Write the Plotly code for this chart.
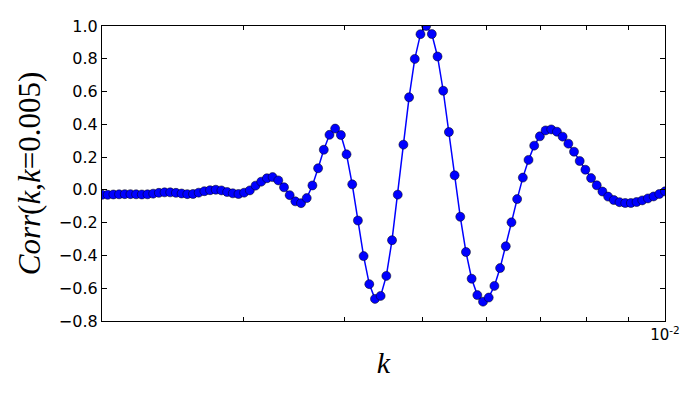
import plotly.graph_objects as go

# k values (log spaced), in units of 1e-3
k_milli = [
    2.0000, 2.0328, 2.0661, 2.1000, 2.1344, 2.1694, 2.2049, 2.2411, 2.2778, 2.3151,
    2.3531, 2.3916, 2.4308, 2.4707, 2.5112, 2.5523, 2.5942, 2.6367, 2.6799, 2.7238,
    2.7684, 2.8138, 2.8602, 2.9068, 2.9545, 3.0029, 3.0521, 3.1021, 3.1530, 3.2047,
    3.2572, 3.3105, 3.3651, 3.4200, 3.4760, 3.5330, 3.5909, 3.6497, 3.7095, 3.7704,
    3.8321, 3.8950, 3.9591, 4.0237, 4.0896, 4.1566, 4.2248, 4.2940, 4.3644, 4.4359,
    4.5086, 4.5825, 4.6580, 4.7340, 4.8116, 4.8904, 4.9706, 5.0520, 5.1348, 5.2190,
    5.3045, 5.3915, 5.4803, 5.5697, 5.6610, 5.7537, 5.8480, 5.9439, 6.0413, 6.1403,
    6.2410, 6.3432, 6.4477, 6.5529, 6.6603, 6.7694, 6.8804, 6.9932, 7.1078, 7.2243,
    7.3427, 7.4630, 7.5859, 7.7097, 7.8360, 7.9644, 8.0950, 8.2277, 8.3625, 8.4996,
    8.6389, 8.7805, 8.9251, 9.0706, 9.2193, 9.3704, 9.5240, 9.6801, 9.8387, 10.0000,
]
k = [v * 1e-3 for v in k_milli]

corr = [
    -0.030, -0.030, -0.028, -0.027, -0.026, -0.026, -0.027, -0.028, -0.027, -0.023,
    -0.018, -0.015, -0.015, -0.018, -0.022, -0.026, -0.025, -0.017, -0.008, -0.002,
    0.001, -0.003, -0.013, -0.021, -0.025, -0.017, -0.003, 0.026, 0.050, 0.071,
    0.078, 0.058, 0.016, -0.032, -0.070, -0.081, -0.050, 0.027, 0.132, 0.245,
    0.336, 0.374, 0.335, 0.217, 0.034, -0.187, -0.404, -0.575, -0.665, -0.647,
    -0.525, -0.307, -0.029, 0.276, 0.565, 0.799, 0.950, 1.000, 0.951, 0.814,
    0.605, 0.353, 0.089, -0.164, -0.379, -0.542, -0.642, -0.682, -0.657, -0.586,
    -0.477, -0.344, -0.198, -0.056, 0.075, 0.183, 0.270, 0.327, 0.363, 0.369,
    0.355, 0.325, 0.282, 0.233, 0.176, 0.123, 0.072, 0.028, -0.010, -0.041,
    -0.062, -0.075, -0.080, -0.080, -0.074, -0.064, -0.052, -0.040, -0.025, -0.009,
]

x_ticks = [0.003, 0.004, 0.005, 0.006, 0.007, 0.008, 0.009, 0.01]
x_ticktext = [" ", " ", " ", " ", " ", " ", " ", "10<sup>-2</sup>"]
y_ticks = [-0.8, -0.6, -0.4, -0.2, 0.0, 0.2, 0.4, 0.6, 0.8, 1.0]
y_ticktext = ["\u22120.8", "\u22120.6", "\u22120.4", "\u22120.2", "0.0",
              "0.2", "0.4", "0.6", "0.8", "1.0"]

fig = go.Figure()
fig.add_trace(go.Scatter(
    x=k, y=corr, mode="lines+markers",
    line=dict(color="#0000ff", width=1.5),
    marker=dict(symbol="circle", size=9, color="#0000ff",
                line=dict(color="black", width=0.5)),
    showlegend=False,
))

# page body has an 8px margin, so the figure is 8px smaller and margins shifted
fig.update_layout(
    width=692, height=392,
    margin=dict(l=94, r=35, t=18, b=79),
    plot_bgcolor="white", paper_bgcolor="white",
    font=dict(family="DejaVu Sans", size=16, color="black"),
)
fig.update_xaxes(
    type="log", range=[-2.69897, -2.0],
    tickvals=x_ticks, ticktext=x_ticktext,
    ticks="inside", ticklen=4, tickcolor="black",
    showline=True, linecolor="black", linewidth=1.2, mirror="allticks",
    showgrid=False, zeroline=False, automargin=False,
    tickfont=dict(size=15),
    title=dict(text="<i>k</i>", font=dict(family="Liberation Serif", size=30),
               standoff=8),
)
fig.update_yaxes(
    range=[-0.8, 1.0],
    tickvals=y_ticks, ticktext=y_ticktext,
    ticks="inside", ticklen=5, tickcolor="black",
    showline=True, linecolor="black", linewidth=1.2, mirror="allticks",
    showgrid=False, zeroline=False, automargin=False,
    title=dict(text="<i>Corr</i>(<i>k</i>,<i>k</i>=0.005)",
               font=dict(family="Liberation Serif", size=31), standoff=8),
)

fig.write_html("out.html")
